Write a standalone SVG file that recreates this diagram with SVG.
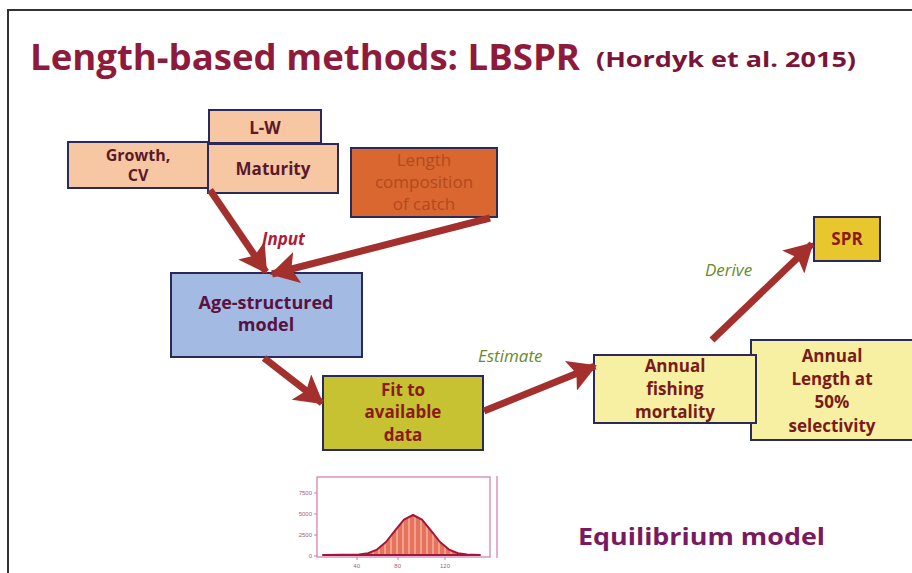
<svg xmlns="http://www.w3.org/2000/svg" width="912" height="573" viewBox="0 0 912 573">
<style>
.box{stroke:#2a2a5a;stroke-width:2}
.peach{fill:#f6c7a2}
.lbl{font-family:"Open Sans","Liberation Sans",sans-serif;font-weight:bold;text-anchor:middle}
.conn{stroke:#a3302c;stroke-width:7;fill:none;marker-end:url(#ah)}
.it{font-family:"Open Sans","Liberation Sans",sans-serif;font-style:italic;font-size:17px}
.tick{font-family:"Liberation Sans",sans-serif;font-size:6px;fill:#a06080;text-anchor:end}
</style>
<defs>
<marker id="ah" markerUnits="userSpaceOnUse" markerWidth="30" markerHeight="32" refX="26" refY="16" orient="auto">
<path d="M0,0 L28,16 L0,32 L6,16 Z" fill="#a3302c"/>
</marker>
<pattern id="stripe" width="6" height="10" patternUnits="userSpaceOnUse">
<rect width="6" height="10" fill="#e4745e"/>
<rect width="2" height="10" fill="#f2a08a"/>
</pattern>
</defs>
<rect width="912" height="573" fill="#ffffff"/>
<path d="M8,573 L8,10 L912,10" fill="none" stroke="#333" stroke-width="2"/>

<text x="30" y="70" font-family="'Open Sans','Liberation Sans',sans-serif" font-weight="bold" font-size="36" fill="#8e1a3c" textLength="550" lengthAdjust="spacingAndGlyphs">Length-based methods: LBSPR</text>
<text x="596" y="67" font-family="'Open Sans','Liberation Sans',sans-serif" font-weight="bold" font-size="21" fill="#7a1438" textLength="260" lengthAdjust="spacingAndGlyphs">(Hordyk et al. 2015)</text>

<g id="lw"><rect class="box peach" x="209" y="110" width="112" height="33"/><text class="lbl" x="265" y="134" font-size="17" fill="#5a1a2a">L-W</text></g>
<g id="growth"><rect class="box peach" x="68" y="142" width="140" height="46"/><text class="lbl" x="138" y="161" font-size="16" fill="#5a1a2a">Growth,</text><text class="lbl" x="138" y="181" font-size="16" fill="#5a1a2a">CV</text></g>
<g id="maturity"><rect class="box peach" x="208" y="144" width="130" height="49"/><text class="lbl" x="273" y="175" font-size="17" fill="#5a1a2a">Maturity</text></g>
<g id="lencomp"><rect class="box" x="351" y="148" width="146" height="69" fill="#d9672f"/>
<text class="lbl" x="424" y="166" font-size="17" fill="#b04a22" style="font-weight:normal">Length</text>
<text class="lbl" x="424" y="188" font-size="17" fill="#b04a22" style="font-weight:normal">composition</text>
<text class="lbl" x="424" y="210" font-size="17" fill="#b04a22" style="font-weight:normal">of catch</text></g>

<g id="age"><rect class="box" x="171" y="273" width="191" height="84" fill="#a3bae2" stroke="#2a1a6a"/><text class="lbl" x="266" y="309" font-size="18" fill="#5a1040">Age-structured</text><text class="lbl" x="266" y="331" font-size="18" fill="#5a1040">model</text></g>

<g id="fit"><rect class="box" x="323" y="376" width="160" height="74" fill="#c6c232" stroke="#5a4a2a"/><text class="lbl" x="403" y="396" font-size="17" fill="#8b1a1a">Fit to</text><text class="lbl" x="403" y="418" font-size="17" fill="#8b1a1a">available</text><text class="lbl" x="403" y="441" font-size="17" fill="#8b1a1a">data</text></g>

<g id="sel"><rect class="box" x="751" y="340" width="165" height="100" fill="#f7f0a2" stroke="#444"/><text class="lbl" x="832" y="362" font-size="17" fill="#7a1a1a">Annual</text><text class="lbl" x="832" y="385" font-size="17" fill="#7a1a1a">Length at</text><text class="lbl" x="832" y="408" font-size="17" fill="#7a1a1a">50%</text><text class="lbl" x="832" y="432" font-size="17" fill="#7a1a1a">selectivity</text></g>
<g id="fmort"><rect class="box" x="594" y="355" width="162" height="68" fill="#f7f0a2" stroke="#444"/><text class="lbl" x="675" y="372" font-size="17" fill="#7a1a1a">Annual</text><text class="lbl" x="675" y="395" font-size="17" fill="#7a1a1a">fishing</text><text class="lbl" x="675" y="418" font-size="17" fill="#7a1a1a">mortality</text></g>

<g id="spr"><rect class="box" x="814" y="217" width="66" height="44" fill="#e8c72e" stroke="#555"/><text class="lbl" x="847" y="245" font-size="17" fill="#8b1a1a">SPR</text></g>

<g id="connectors">
<line class="conn" x1="210" y1="190" x2="266" y2="272"/>
<line class="conn" x1="490" y1="218" x2="272" y2="274"/>
<line class="conn" x1="264" y1="358" x2="322" y2="403"/>
<line class="conn" x1="484" y1="411" x2="595" y2="366"/>
<line class="conn" x1="712" y1="340" x2="812" y2="244"/>
</g>

<text class="it" x="262" y="245" fill="#b01a3a" font-weight="bold">Input</text>
<text class="it" x="478" y="362" fill="#6a8a2a">Estimate</text>
<text class="it" x="705" y="276" fill="#6a8a2a">Derive</text>

<g id="chart">
<rect x="317" y="477" width="173" height="80" fill="none" stroke="#d07aa8" stroke-width="1.2"/>
<line x1="497" y1="476" x2="497" y2="558" stroke="#d07aa8" stroke-width="1.2"/>
<path d="M323,555 L359,554.6 L368,553.2 L377,549.6 L386,542 L395,530.7 L404,519.7 L413,515 L422,519.7 L431,530.7 L440,542 L449,549.6 L458,553.2 L467,554.6 L480,555 Z" fill="url(#stripe)" stroke="#a3183a" stroke-width="2" stroke-linejoin="round"/>
<g stroke="#d07aa8" stroke-width="1"><line x1="314" y1="493" x2="317" y2="493"/><line x1="314" y1="514" x2="317" y2="514"/><line x1="314" y1="535" x2="317" y2="535"/><line x1="314" y1="556" x2="317" y2="556"/><line x1="357" y1="557" x2="357" y2="560"/><line x1="398" y1="557" x2="398" y2="560"/><line x1="445" y1="557" x2="445" y2="560"/></g>
<text class="tick" x="312" y="495">7500</text>
<text class="tick" x="312" y="516">5000</text>
<text class="tick" x="312" y="537">2500</text>
<text class="tick" x="312" y="558">0</text>
<text class="tick" x="360" y="568">40</text>
<text class="tick" x="401" y="568">80</text>
<text class="tick" x="450" y="568">120</text>
</g>

<text x="578" y="545" font-family="'Open Sans','Liberation Sans',sans-serif" font-weight="bold" font-size="24" fill="#7a1a5e" textLength="247" lengthAdjust="spacingAndGlyphs">Equilibrium model</text>
</svg>
